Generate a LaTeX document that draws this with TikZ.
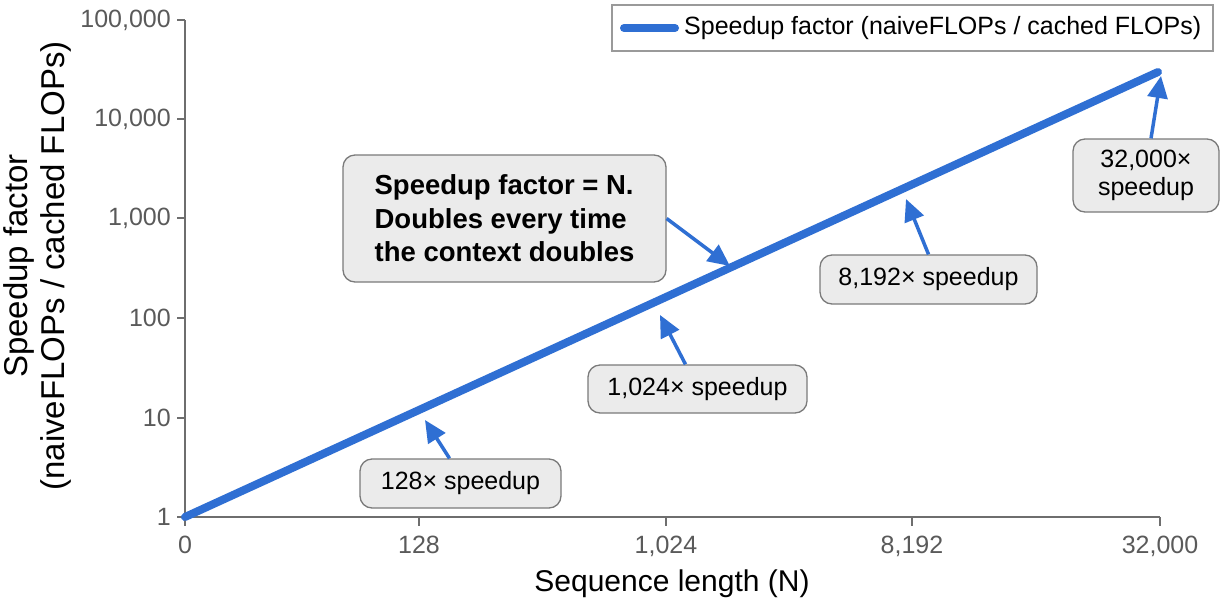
\documentclass[tikz,border=0pt]{standalone}
\usepackage{fontspec}
\setmainfont{Liberation Sans}
\usetikzlibrary{arrows.meta}
\definecolor{lineblue}{HTML}{2F6FD3}
\definecolor{axisgray}{HTML}{6E6E6E}
\definecolor{ticktext}{HTML}{5A5A5A}
\definecolor{boxfill}{HTML}{EBEBEB}
\definecolor{boxedge}{HTML}{7A7A7A}
\definecolor{legendedge}{HTML}{9A9A9A}
\begin{document}
\begin{tikzpicture}[x=1pt,y=-1pt,
  axisline/.style={draw=axisgray, line width=2pt},
  ticklbl/.style={text=ticktext, font=\fontsize{25}{28}\selectfont, inner sep=0pt},
  callout/.style={draw=boxedge, line width=1.3pt, fill=boxfill, rounded corners=12pt,
    font=\fontsize{25}{28}\selectfont, inner sep=0pt, align=center},
  pointer/.style={draw=lineblue, line width=3.5pt, -{Triangle[length=22pt,width=20pt]}},
  series/.style={draw=lineblue, line width=8pt, line cap=round}]
\useasboundingbox (0,0) rectangle (1225,600);
\fill[white] (0,0) rectangle (1225,600);

% axes
\coordinate (o) at (185,517);
\coordinate (ytop) at (185,20);
\coordinate (xend) at (1160,517);
\draw[axisline] (ytop) -- (o) -- (xend);

% y ticks (log scale)
\foreach \yy/\lbl in {20/{100,000},119/{10,000},218/{1,000},318/{100},418/{10},517/{1}} {
  \draw[axisline] (177,\yy) -- (185,\yy);
  \node[ticklbl, anchor=east] at (171,\yy) {\lbl};
}
% x ticks
\foreach \xx/\lbl in {185/0,419/128,666/{1,024},912/{8,192},1160/{32,000}} {
  \draw[axisline] (\xx,517) -- (\xx,526);
  \node[ticklbl, anchor=north] at (\xx,536) {\lbl};
}

% axis titles
\node[font=\fontsize{30}{36}\selectfont, anchor=base, inner sep=0pt] (xtitle) at (672,591) {Sequence length (N)};
\node[font=\fontsize{33}{37}\selectfont, rotate=90, align=center, inner sep=0pt] (ytitle) at (37,266)
  {Speedup factor\\(naiveFLOPs / cached FLOPs)};

% speedup series
\coordinate (top) at (1158,72);
\draw[series] (o) -- (top);

% legend
\node[draw=legendedge, line width=1.2pt, fill=white, minimum width=601pt, minimum height=46pt, inner sep=0pt] (legend) at (912.5,28) {};
\coordinate (k1) at (624,28);
\coordinate (k2) at (675,28);
\draw[series] (k1) -- (k2);
\node[anchor=west, inner sep=0pt, font=\fontsize{25}{30}\selectfont] (legtext) at (684,28)
  {Speedup factor (naiveFLOPs / cached FLOPs)};

% callouts
\node[callout, minimum width=323pt, minimum height=127pt, align=left,
  font=\bfseries\fontsize{27.5}{33.5}\selectfont] (main) at (504.5,218.5)
  {Speedup factor = N.\\Doubles every time\\the context doubles};
\node[callout, minimum width=217pt, minimum height=49pt] (b8192) at (928.5,279.5) {8,192× speedup};
\node[callout, minimum width=219pt, minimum height=48pt] (b1024) at (697.5,389) {1,024× speedup};
\node[callout, minimum width=201pt, minimum height=49pt] (b128) at (460.5,483.5) {128× speedup};
\node[callout, minimum width=146pt, minimum height=73pt] (b32k) at (1146,175.5) {32,000×\\speedup};

% pointers onto the series
\coordinate (tmain) at (730,266);
\coordinate (t8192) at (906,199);
\coordinate (t1024) at (660,315);
\coordinate (t128) at (425,420);
\coordinate (t32k) at (1161,76);
\draw[pointer] (main.east) -- (tmain);
\draw[pointer] (b8192.north) -- (t8192);
\draw[pointer] ([xshift=-12pt]b1024.north) -- (t1024);
\draw[pointer] ([xshift=-11pt]b128.north) -- (t128);
\draw[pointer] ([xshift=5pt]b32k.north) -- (t32k);
\end{tikzpicture}
\end{document}
